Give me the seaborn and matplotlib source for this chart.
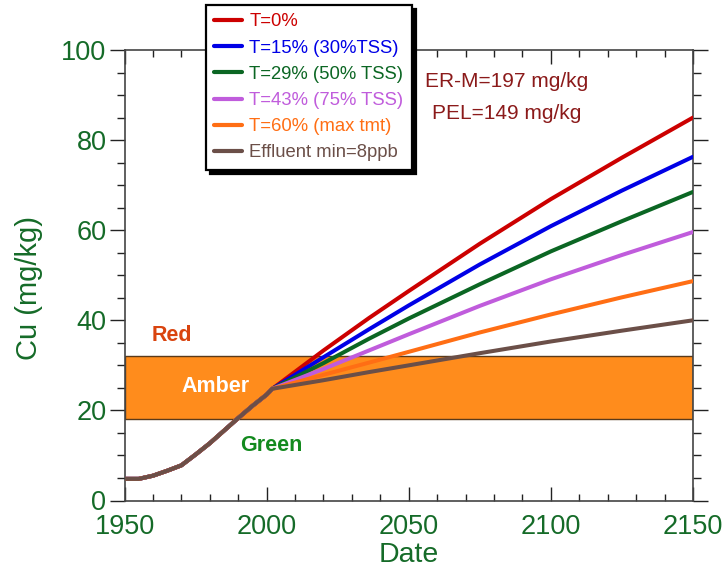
import numpy as np
import pandas as pd
import matplotlib
matplotlib.use("Agg")
import matplotlib.pyplot as plt
from matplotlib.lines import Line2D
import seaborn as sns

# Shared sediment Cu history up to the start of treatment
hist_years = [1950, 1955, 1960, 1965, 1970, 1975, 1980, 1985, 1990, 1995, 2000, 2002]
hist_cu = [4.8, 4.8, 5.5, 6.6, 7.8, 10.2, 12.7, 15.5, 18.3, 21.0, 23.5, 24.8]

# Projected Cu (mg/kg) per treatment scenario
proj_years = [2020, 2036, 2050, 2075, 2100, 2125, 2150]
cu_t0 = [33.3, 40.5, 46.5, 57.0, 66.9, 76.1, 85.0]
cu_t15 = [31.8, 38.0, 43.3, 52.4, 60.9, 68.8, 76.3]
cu_t29 = [30.5, 35.9, 40.4, 48.0, 55.3, 62.0, 68.5]
cu_t43 = [29.2, 33.3, 36.9, 43.2, 49.1, 54.5, 59.6]
cu_t60 = [27.9, 30.6, 33.0, 37.3, 41.3, 45.1, 48.7]
cu_eff = [26.7, 28.5, 30.0, 32.7, 35.3, 37.7, 40.0]

scenarios = ["T=0%", "T=15% (30%TSS)", "T=29% (50% TSS)",
             "T=43% (75% TSS)", "T=60% (max tmt)", "Effluent min=8ppb"]
colors = ["#CC0000", "#0000E6", "#0B6623", "#C05CDC", "#FF6E14", "#6B4F48"]

# Sediment quality band limits (mg/kg)
amber_low, amber_high = 18, 32
band_labels = ["Red", "Amber", "Green"]
guidelines = ["ER-M=197 mg/kg", "PEL=149 mg/kg"]

x_ticks = [1950, 2000, 2050, 2100, 2150]
y_ticks = [0, 20, 40, 60, 80, 100]

rows = []
for name, proj in zip(scenarios, [cu_t0, cu_t15, cu_t29, cu_t43, cu_t60, cu_eff]):
    for yr, v in zip(hist_years + proj_years, hist_cu + proj):
        rows.append({"Date": yr, "Cu": v, "Scenario": name})
df = pd.DataFrame(rows)

sns.set_theme(style="ticks")
plt.rcParams["font.family"] = ["Liberation Sans", "DejaVu Sans"]

fig = plt.figure(figsize=(7.26, 5.73), dpi=100)
ax = fig.add_axes([124.5 / 726, 1 - 500.5 / 573, (693 - 124.5) / 726, (500.5 - 50) / 573])

# Amber band
ax.axhspan(amber_low, amber_high, facecolor="#FF8C1C", edgecolor="#5A3A1A",
           linewidth=1.0, zorder=1)

sns.lineplot(data=df, x="Date", y="Cu", hue="Scenario", hue_order=scenarios,
             palette=colors, linewidth=2.9, legend=False, ax=ax, zorder=3)

ax.set_xlim(1950, 2150)
ax.set_ylim(0, 100)

label_green = "#156B28"
ax.set_xticks(x_ticks)
ax.set_yticks(y_ticks)
ax.set_xticks(np.arange(1950, 2151, 10), minor=True)
ax.set_yticks(np.arange(0, 101, 5), minor=True)
ax.tick_params(axis="x", which="both", direction="in", top=True, bottom=True,
               labelsize=19.5, labelcolor=label_green, pad=10, color="#222222")
ax.tick_params(axis="x", which="major", length=10, width=1.0)
ax.tick_params(axis="x", which="minor", length=5, width=1.0)
ax.tick_params(axis="y", which="both", direction="out", left=True, right=True,
               labelsize=19.5, labelcolor=label_green, pad=2, color="#222222")
ax.tick_params(axis="y", which="major", length=11, width=1.0)
ax.tick_params(axis="y", which="minor", length=6, width=1.0)

for side, sp in ax.spines.items():
    sp.set_visible(True)
    sp.set_linewidth(1.2)
    sp.set_color("#444444")

ax.set_xlabel("Date", fontsize=20.5, color=label_green, labelpad=1)
ax.set_ylabel("Cu (mg/kg)", fontsize=21, color=label_green)
ax.yaxis.set_label_coords(-0.143, 0.472)

# Band labels
ax.text(1966.6, 36.7, band_labels[0], color="#D9440F", fontsize=15.5,
        fontweight="bold", ha="center", va="center", zorder=4)
ax.text(1982.0, 25.3, band_labels[1], color="white", fontsize=15.5,
        fontweight="bold", ha="center", va="center", zorder=4)
ax.text(2001.8, 12.2, band_labels[2], color="#138A1E", fontsize=15.5,
        fontweight="bold", ha="center", va="center", zorder=4)

# Guideline values
ax.text(2084.6, 93.0, guidelines[0], color="#8B1A1A", fontsize=15,
        ha="center", va="center")
ax.text(2084.4, 85.8, guidelines[1], color="#8B1A1A", fontsize=15,
        ha="center", va="center")

handles = [Line2D([], [], color=c, linewidth=3.0) for c in colors]
leg = fig.legend(handles, scenarios, loc="upper left",
                 bbox_to_anchor=(206 / 726, 1 - 5 / 573), borderaxespad=0,
                 fontsize=13.3, frameon=True, fancybox=False,
                 shadow={"ox": 3, "oy": -3, "color": "black", "alpha": 1.0},
                 handlelength=1.5, handletextpad=0.4, borderpad=0.45,
                 labelspacing=0.5)
leg.get_frame().set_edgecolor("black")
leg.get_frame().set_linewidth(1.6)
leg.get_frame().set_facecolor("white")
leg.get_frame().set_alpha(1.0)
for txt, c in zip(leg.get_texts(), colors):
    txt.set_color(c)

fig.savefig("out.png", dpi=100)
